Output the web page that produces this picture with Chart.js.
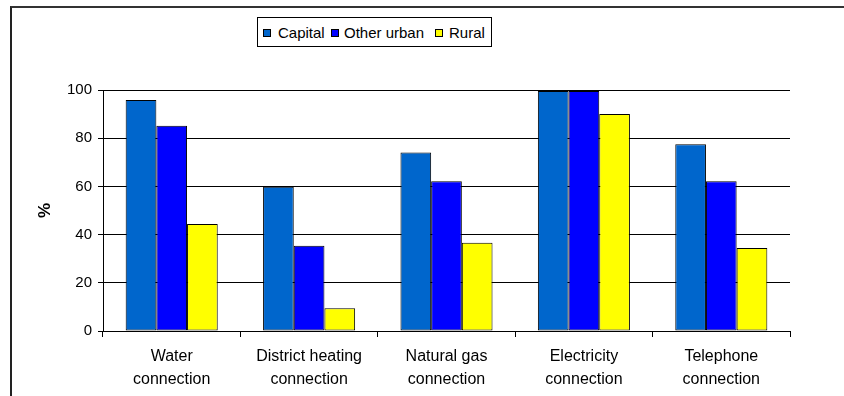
<!DOCTYPE html>
<html>
<head>
<meta charset="utf-8">
<script src="https://cdn.jsdelivr.net/npm/chart.js@4"></script>
<style>
  body { margin: 0; background: #fff; }
  #wrap { position: relative; width: 844px; height: 396px; overflow: hidden; font-family: "Liberation Sans", Arial, sans-serif; }
  #frame { position: absolute; left: 10px; top: 6px; right: -4px; bottom: -4px; border-top: 2px solid #333; border-left: 2px solid #222; }
  #chart { position: absolute; left: 0; top: 0; }
  #legend { position: absolute; left: 257px; top: 17px; width: 233px; height: 28px; border: 1px solid #000; background: #fff; font-size: 15px; color: #000; }
  #legend .sw { position: absolute; top: 11px; width: 6px; height: 6px; border: 1px solid #000; }
  #legend .tx { position: absolute; top: 6px; line-height: 17px; white-space: nowrap; }
</style>
</head>
<body>
<div id="wrap">
  <div id="frame"></div>
  <canvas id="chart" width="844" height="396"></canvas>
  <div id="legend"></div>
</div>
<script>
// ===== DATA =====
const categories = [
  ['Water', 'connection'],
  ['District heating', 'connection'],
  ['Natural gas', 'connection'],
  ['Electricity', 'connection'],
  ['Telephone', 'connection']
];
const seriesNames = ['Capital', 'Other urban', 'Rural'];
const capital    = [95.9, 59.9, 74.1, 99.6, 77.5];
const otherUrban = [85.2, 35.4, 62.1, 99.6, 62.1];
const rural      = [44.4,  9.4, 36.6, 90.0, 34.4];
const yTicks = [0, 20, 40, 60, 80, 100];

const colors = ['#0066CC', '#0000FF', '#FFFF00'];

// ===== LEGEND (boxed, like the original) =====
const legendPos = [[5, 20], [73, 86], [177, 191]];
const legend = document.getElementById('legend');
seriesNames.forEach((name, i) => {
  const sw = document.createElement('span');
  sw.className = 'sw';
  sw.style.left = legendPos[i][0] + 'px';
  sw.style.background = colors[i];
  legend.appendChild(sw);
  const tx = document.createElement('span');
  tx.className = 'tx';
  tx.style.left = legendPos[i][1] + 'px';
  tx.textContent = name;
  legend.appendChild(tx);
});

// ===== BAR CHART =====
const ctx = document.getElementById('chart').getContext('2d');
new Chart(ctx, {
  type: 'bar',
  data: {
    labels: categories,
    datasets: [capital, otherUrban, rural].map((d, i) => ({
      label: seriesNames[i],
      data: d,
      backgroundColor: colors[i],
      borderColor: '#000',
      borderWidth: 1,
      borderSkipped: false,
      barPercentage: 1,
      categoryPercentage: 0.67
    }))
  },
  options: {
    responsive: false,
    animation: false,
    layout: { padding: { top: 90, right: 54, left: 0, bottom: 0 } },
    plugins: { legend: { display: false }, tooltip: { enabled: false } },
    scales: {
      x: {
        afterFit: s => { s.height = 65; },
        grid: { drawOnChartArea: false, drawTicks: true, tickLength: 6, color: '#000', offset: true },
        border: { color: '#000' },
        ticks: {
          color: '#000', maxRotation: 0, autoSkip: false, padding: 8,
          font: { family: 'Liberation Sans', size: 16, lineHeight: 1.45 }
        }
      },
      y: {
        min: 0, max: 100,
        afterFit: s => { s.width = 103; },
        afterBuildTicks: s => { s.ticks = yTicks.map(v => ({ value: v })); },
        grid: { color: '#000', lineWidth: 1, tickLength: 5 },
        border: { color: '#000' },
        ticks: { color: '#000', padding: 6, font: { family: 'Liberation Sans', size: 15 } },
        title: {
          display: true, text: '%', color: '#000',
          padding: { top: 35, bottom: 0 },
          font: { family: 'Liberation Sans', size: 17, weight: 'bold' }
        }
      }
    }
  }
});
</script>
</body>
</html>
